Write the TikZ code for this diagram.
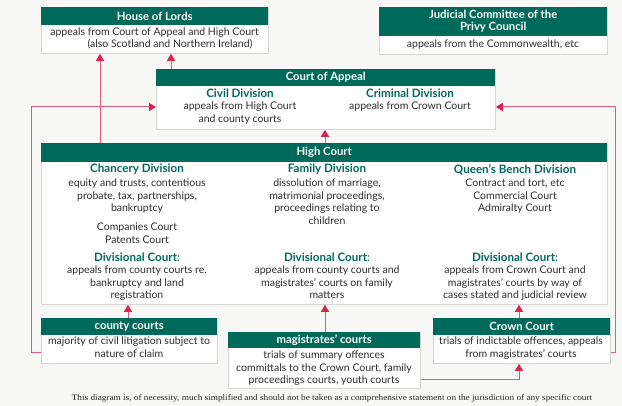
\documentclass[tikz,border=0pt]{standalone}
\usepackage{fontspec}
\setmainfont{Lato}
\newfontfamily\notefont{Liberation Serif}
\usetikzlibrary{arrows.meta}
\definecolor{hdteal}{HTML}{006A5A}
\definecolor{arrred}{HTML}{D9234E}
\definecolor{lnred}{HTML}{E35A7C}
\definecolor{boxgray}{HTML}{D6D6D6}
\definecolor{bggray}{HTML}{F7F7F5}
\begin{document}
\begin{tikzpicture}[x=1pt,y=-1pt,
  box/.style={draw=boxgray, fill=white, line width=0.8pt, anchor=north west, inner sep=0},
  hdr/.style={fill=hdteal, anchor=north west, inner sep=0, text=white, align=center,
    font=\bfseries\fontsize{11.3}{12}\selectfont},
  txt/.style={inner sep=0, align=center, anchor=north, text=black!82,
    font=\fontsize{10.5}{12.4}\selectfont},
  ttl/.style={inner sep=0, anchor=north, text=hdteal, font=\bfseries\fontsize{11.6}{12}\selectfont},
  arr/.style={draw=lnred, line width=1pt, -{Triangle[width=8pt,length=7pt,fill=arrred,color=arrred]}}]
\fill[bggray] (0,0) rectangle (622,406);
\useasboundingbox (0,0) rectangle (622,406);

% House of Lords
\node[box, minimum width=227, minimum height=46] (hol) at (41,7) {};
\node[hdr, minimum width=227, minimum height=18] (holh) at (41,7) {House of Lords};
\node[txt] (holt1) at (154.5,28) {appeals from Court of Appeal and High Court};
\node[txt] (holt2) at (170,39) {(also Scotland and Northern Ireland)};

% JCPC
\node[box, minimum width=228, minimum height=47] (jc) at (379,7) {};
\node[hdr, minimum width=228, minimum height=29] (jch) at (379,7) {Judicial Committee of the\\Privy Council};
\node[txt] (jct) at (493,40) {appeals from the Commonwealth, etc};

% Court of Appeal
\node[box, minimum width=339, minimum height=60] (coa) at (156,69) {};
\node[hdr, minimum width=339, minimum height=17] (coah) at (156,69) {Court of Appeal};
\node[ttl] (civ) at (240,89) {Civil Division};
\node[txt] (civt) at (240,102) {appeals from High Court\\and county courts};
\node[ttl] (crim) at (410,89) {Criminal Division};
\node[txt] (crimt) at (410,102) {appeals from Crown Court};

% High Court
\node[box, minimum width=566, minimum height=161] (hc) at (41,143) {};
\node[hdr, minimum width=566, minimum height=19] (hch) at (41,143) {High Court};
\node[ttl] (chan) at (137,164) {Chancery Division};
\node[txt] (chant) at (137,179) {equity and trusts, contentious\\probate, tax, partnerships,\\bankruptcy};
\node[txt] (chanc) at (137,223) {Companies Court\\Patents Court};
\node[ttl] (chand) at (137,253) {Divisional Court\textmd{:}};
\node[txt] (chandt) at (137,266) {appeals from county courts re.\\bankruptcy and land\\registration};
\node[ttl] (fam) at (327,164) {Family Division};
\node[txt] (famt) at (327,179) {dissolution of marriage,\\matrimonial proceedings,\\proceedings relating to\\children};
\node[ttl] (famd) at (327,253) {Divisional Court\textmd{:}};
\node[txt] (famdt) at (327,266) {appeals from county courts and\\magistrates' courts on family\\matters};
\node[ttl] (qb) at (515,164) {Queen's Bench Division};
\node[txt] (qbt) at (515,179) {Contract and tort, etc\\Commercial Court\\Admiralty Court};
\node[ttl] (qbd) at (515,253) {Divisional Court\textmd{:}};
\node[txt] (qbdt) at (515,266) {appeals from Crown Court and\\magistrates' courts by way of\\cases stated and judicial review};

% county courts
\node[box, minimum width=176, minimum height=45] (cc) at (41,318) {};
\node[hdr, minimum width=176, minimum height=17] (cch) at (41,318) {county courts};
\node[txt] (cct) at (129,337) {majority of civil litigation subject to\\nature of claim};

% magistrates' courts
\node[box, minimum width=192, minimum height=56] (mc) at (228,332) {};
\node[hdr, minimum width=192, minimum height=16] (mch) at (228,332) {magistrates' courts};
\node[txt] (mct) at (324,351) {trials of summary offences\\committals to the Crown Court, family\\proceedings courts, youth courts};

% Crown Court
\node[box, minimum width=177, minimum height=45] (crc) at (433,318) {};
\node[hdr, minimum width=177, minimum height=17] (crch) at (433,318) {Crown Court};
\node[txt] (crct) at (521,337) {trials of indictable offences, appeals\\from magistrates' courts};

% footnote
\node[inner sep=0, font=\notefont\fontsize{8.4}{9}\selectfont, text=black!85, xscale=1.1] (note) at (332,398)
  {This diagram is, of necessity, much simplified and should not be taken as a comprehensive statement on the jurisdiction of any specific court};

% connectors
\coordinate (x100) at (100,0);
\coordinate (x171) at (171,0);
\coordinate (x325) at (325,0);
\coordinate (x128) at (128,0);
\coordinate (x519) at (519,0);
\coordinate (y107) at (0,107);
\coordinate (y353) at (0,353);
\coordinate (y380) at (0,380);
\coordinate (lx) at (31,0);
\coordinate (rx) at (615,0);

\draw[arr] (x171 |- coa.north) -- (x171 |- hol.south);
\draw[arr] (x100 |- hc.north) -- (x100 |- hol.south);
\draw[arr] (x325 |- hc.north) -- (x325 |- coa.south);
\draw[arr] (cc.west |- y353) -- (lx |- y353) -- (lx |- y107) -- (coa.west |- y107);
\draw[arr] (crc.east |- y353) -- (rx |- y353) -- (rx |- y107) -- (coa.east |- y107);
\draw[arr] (x128 |- cc.north) -- (x128 |- hc.south);
\draw[arr] (x325 |- mc.north) -- (x325 |- hc.south);
\draw[arr] (mc.east |- y380) -- (x519 |- y380) -- (x519 |- crc.south);
\draw[arr] (x519 |- crc.north) -- (x519 |- hc.south);
\end{tikzpicture}
\end{document}
